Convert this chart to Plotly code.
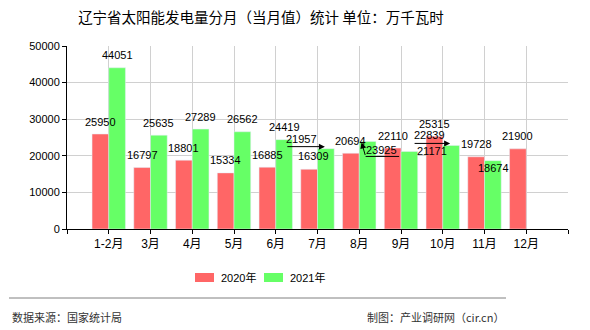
import plotly.graph_objects as go

months = ["1-2月", "3月", "4月", "5月", "6月", "7月", "8月", "9月", "10月", "11月", "12月"]
v2020 = [25950, 16797, 18801, 15334, 16885, 16309, 20694, 22110, 25315, 19728, 21900]
v2021 = [44051, 25635, 27289, 26562, 24419, 21957, 23925, 21171, 22839, 18674, None]
series_names = ["2020年", "2021年"]
colors = ["#FF6666", "#66FF66"]

W, H = 590, 330
L, R, T, B = 67, 568, 46, 229
def px(x):
    return (x - L) / (R - L)
def py(y):
    return (B - y) / (B - T)

FONT = "Liberation Sans, Noto Sans CJK SC, sans-serif"
xs = list(range(1, len(months) + 1))

fig = go.Figure()
fig.add_trace(go.Bar(x=xs, y=v2020, name=series_names[0], marker_color=colors[0],
                     width=0.4, offset=-0.4, showlegend=False))
fig.add_trace(go.Bar(x=xs, y=v2021, name=series_names[1], marker_color=colors[1],
                     width=0.4, offset=0.0, showlegend=False))

ann = []
# label displacement (xshift, yshift in px relative to default above-bar placement)
shift2020 = {5: (4, 1)}
shift2021 = {5: (-24, -2.5), 6: (14, -21), 7: (23, -12), 8: (-22, -2.5), 9: (1, -20)}
for i, (a, b) in enumerate(zip(v2020, v2021)):
    for val, off, sh in ((a, -0.2, shift2020), (b, 0.2, shift2021)):
        if val is None:
            continue
        dx, dy = sh.get(i, (0, 0))
        ann.append(dict(x=xs[i] + off, y=val, xref="x", yref="y", text=str(val),
                        showarrow=False, yanchor="middle", xanchor="center",
                        xshift=dx, yshift=12.5 + dy,
                        font=dict(family=FONT, size=11, color="#000")))

# leader arrows
arrow_common = dict(xref="x", yref="y", text="", showarrow=True, arrowcolor="#000",
                    arrowwidth=1, axref="pixel", ayref="pixel")
# 7月 2021
ann.append(dict(x=xs[5] + 0.2, y=v2021[5], xshift=-1, yshift=2, ax=-39, ay=0,
                arrowhead=2, arrowsize=1.2, **arrow_common))
# 10月 2021
ann.append(dict(x=xs[8] + 0.2, y=v2021[8], xshift=-1, yshift=2, ax=-37, ay=0,
                arrowhead=2, arrowsize=1.2, **arrow_common))
# 8月 2021
ann.append(dict(x=xs[6] + 0.2, y=v2021[6], xshift=-6, yshift=-1, ax=4, ay=14,
                arrowhead=2, arrowsize=1.2, **arrow_common))
ann.append(dict(x=xs[6] + 0.2, y=v2021[6], xshift=-2, yshift=-15, ax=35, ay=0,
                arrowhead=0, **arrow_common))

# custom legend
shapes = []
leg = [(195, 214, 219), (264, 283, 288)]
for (x0, x1, tx), c, nm in zip(leg, colors, series_names):
    shapes.append(dict(type="rect", xref="paper", yref="paper", x0=px(x0), x1=px(x1),
                       y0=py(282), y1=py(273), fillcolor=c, line=dict(width=0)))
    ann.append(dict(x=px(tx), y=py(277.5), xref="paper", yref="paper", text=nm,
                    showarrow=False, xanchor="left", yanchor="middle",
                    font=dict(family=FONT, size=11, color="#000")))
# separator
shapes.append(dict(type="line", xref="paper", yref="paper", x0=px(9), x1=px(506),
                   y0=py(298), y1=py(298), line=dict(color="#808080", width=1)))
ann.append(dict(x=px(10), y=py(317), xref="paper", yref="paper", text="数据来源：国家统计局",
                showarrow=False, xanchor="left", yanchor="middle",
                font=dict(family="Noto Sans CJK SC", size=11, color="#333")))
ann.append(dict(x=px(506), y=py(317), xref="paper", yref="paper", text="制图：产业调研网（cir.cn）",
                showarrow=False, xanchor="right", yanchor="middle",
                font=dict(family="Noto Sans CJK SC", size=11, color="#333")))

fig.update_layout(
    width=W, height=H,
    margin=dict(l=L, r=W - R, t=T, b=H - B),
    paper_bgcolor="white", plot_bgcolor="white",
    barmode="overlay",
    title=dict(text="辽宁省太阳能发电量分月（当月值）统计 单位：万千瓦时",
               x=261 / W, xanchor="center", xref="container",
               y=1 - 17.5 / H, yanchor="middle", yref="container",
               font=dict(family="Noto Sans CJK SC", size=14.5, color="#000")),
    annotations=ann, shapes=shapes,
    xaxis=dict(range=[0, len(months) + 1], tickmode="array",
               tickvals=list(range(0, len(months) + 2)),
               ticktext=[""] + months + [""],
               showgrid=True, gridcolor="#d0d0d0", gridwidth=1,
               showline=True, linecolor="#000", linewidth=1,
               ticks="outside", ticklen=4, tickcolor="#000",
               tickfont=dict(family=FONT, size=12, color="#000"), zeroline=False,
               fixedrange=True),
    yaxis=dict(range=[0, 50000], dtick=10000, tick0=0,
               showgrid=True, gridcolor="#d0d0d0", gridwidth=1,
               showline=True, linecolor="#000", linewidth=1,
               ticks="outside", ticklen=4, tickcolor="#000",
               tickfont=dict(family=FONT, size=11, color="#000"),
               zeroline=False, tickformat="d", fixedrange=True),
)
fig.write_html("out.html")
